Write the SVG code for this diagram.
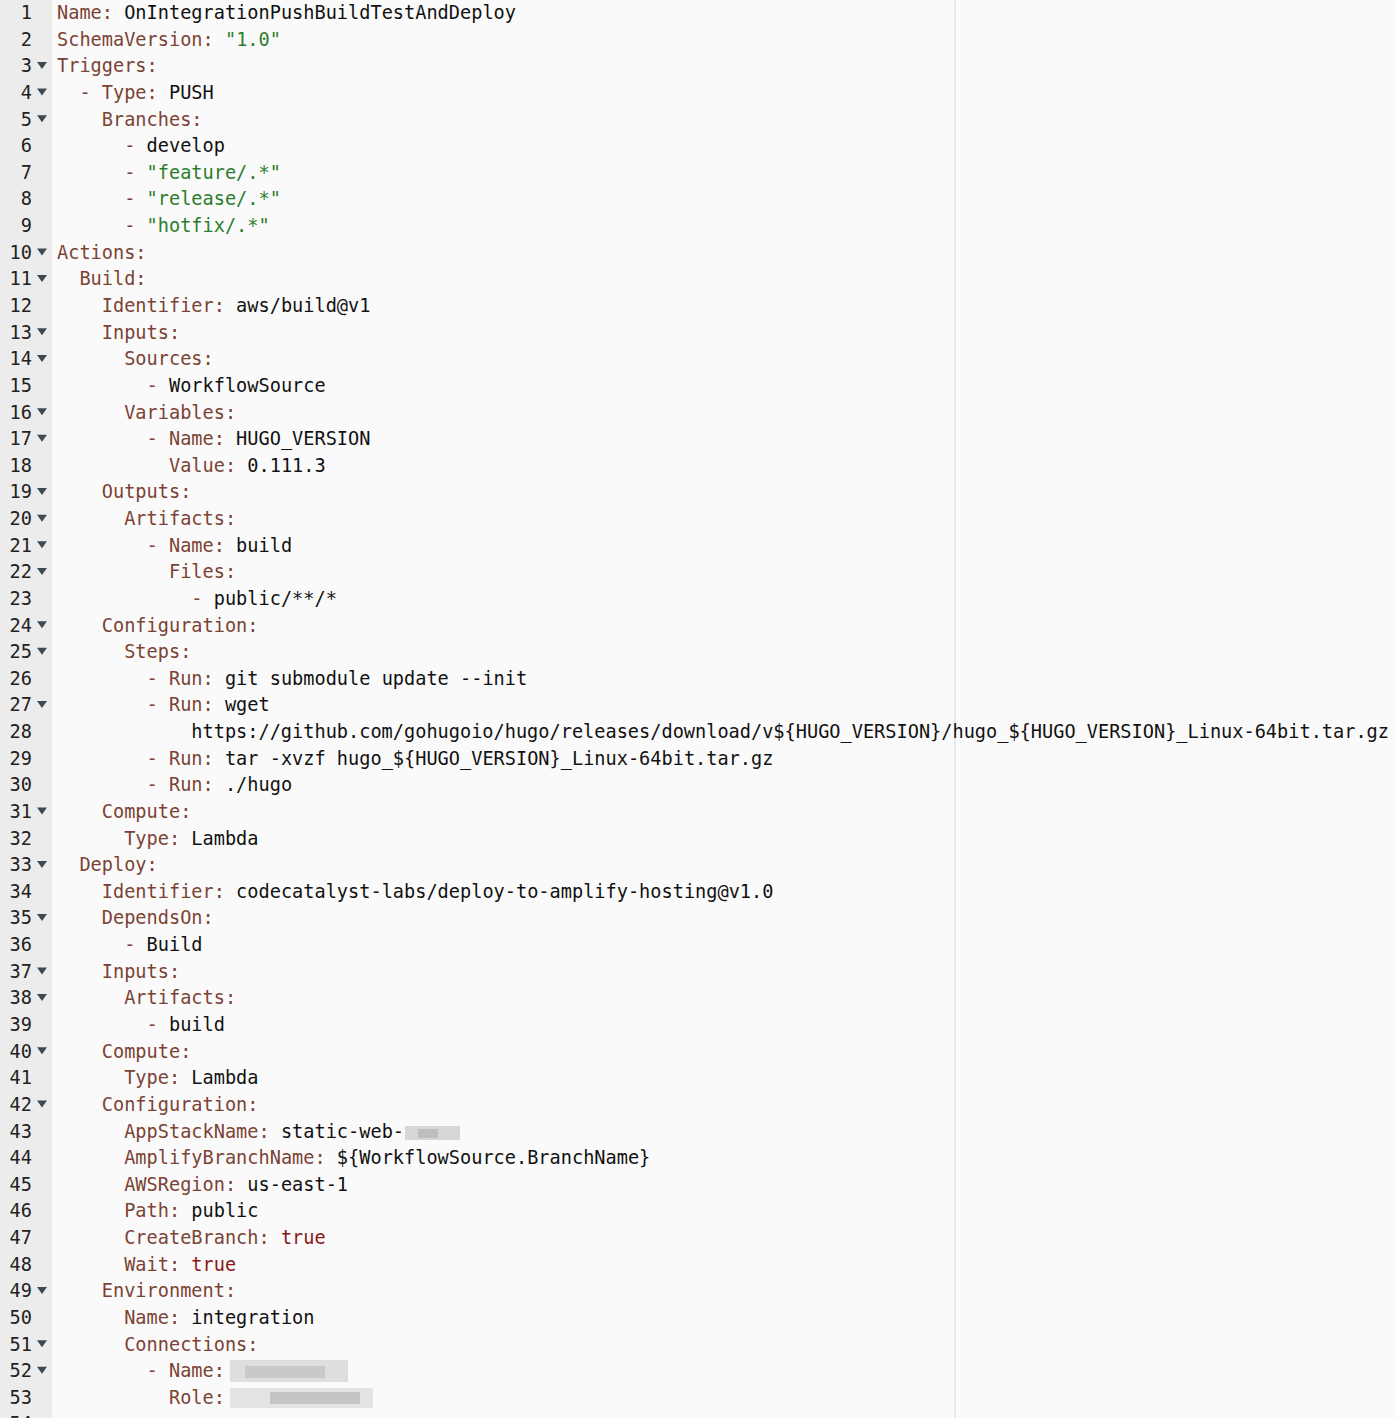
<svg xmlns="http://www.w3.org/2000/svg" width="1396" height="1418" viewBox="0 0 1396 1418">
<style>
text{font-family:"DejaVu Sans Mono","Liberation Mono",monospace;font-size:18.6px;fill:#111;white-space:pre}
.k{fill:#7b4334}.s{fill:#2b7d2b}.b{fill:#8b1616}
.n{text-anchor:end;fill:#222}
</style>
<defs><path id="t" d="M-5,-4 L5,-4 L0,3 Z" fill="#3b4a55"/></defs>
<rect width="1396" height="1418" fill="#fafafa"/>
<rect width="52" height="1418" fill="#ececec"/>
<line x1="955" y1="0" x2="955" y2="1418" stroke="#e4e4e4" stroke-width="1.5"/>
<g id="gutter">
<text class="n" x="32" y="19">1</text><text class="n" x="32" y="45.6">2</text><text class="n" x="32" y="72.3">3</text><text class="n" x="32" y="98.9">4</text><text class="n" x="32" y="125.5">5</text><text class="n" x="32" y="152.2">6</text><text class="n" x="32" y="178.8">7</text><text class="n" x="32" y="205.4">8</text><text class="n" x="32" y="232">9</text><text class="n" x="32" y="258.7">10</text><text class="n" x="32" y="285.3">11</text><text class="n" x="32" y="311.9">12</text><text class="n" x="32" y="338.6">13</text><text class="n" x="32" y="365.2">14</text><text class="n" x="32" y="391.8">15</text><text class="n" x="32" y="418.5">16</text><text class="n" x="32" y="445.1">17</text><text class="n" x="32" y="471.7">18</text><text class="n" x="32" y="498.3">19</text><text class="n" x="32" y="525">20</text><text class="n" x="32" y="551.6">21</text><text class="n" x="32" y="578.2">22</text><text class="n" x="32" y="604.9">23</text><text class="n" x="32" y="631.5">24</text><text class="n" x="32" y="658.1">25</text><text class="n" x="32" y="684.8">26</text><text class="n" x="32" y="711.4">27</text><text class="n" x="32" y="738">28</text><text class="n" x="32" y="764.6">29</text><text class="n" x="32" y="791.3">30</text><text class="n" x="32" y="817.9">31</text><text class="n" x="32" y="844.5">32</text><text class="n" x="32" y="871.2">33</text><text class="n" x="32" y="897.8">34</text><text class="n" x="32" y="924.4">35</text><text class="n" x="32" y="951.1">36</text><text class="n" x="32" y="977.7">37</text><text class="n" x="32" y="1004.3">38</text><text class="n" x="32" y="1030.9">39</text><text class="n" x="32" y="1057.6">40</text><text class="n" x="32" y="1084.2">41</text><text class="n" x="32" y="1110.8">42</text><text class="n" x="32" y="1137.5">43</text><text class="n" x="32" y="1164.1">44</text><text class="n" x="32" y="1190.7">45</text><text class="n" x="32" y="1217.4">46</text><text class="n" x="32" y="1244">47</text><text class="n" x="32" y="1270.6">48</text><text class="n" x="32" y="1297.2">49</text><text class="n" x="32" y="1323.9">50</text><text class="n" x="32" y="1350.5">51</text><text class="n" x="32" y="1377.1">52</text><text class="n" x="32" y="1403.8">53</text><text class="n" x="32" y="1430.4">54</text>
<use href="#t" x="42" y="66"/><use href="#t" x="42" y="92.6"/><use href="#t" x="42" y="119.2"/><use href="#t" x="42" y="252.4"/><use href="#t" x="42" y="279"/><use href="#t" x="42" y="332.3"/><use href="#t" x="42" y="358.9"/><use href="#t" x="42" y="412.2"/><use href="#t" x="42" y="438.8"/><use href="#t" x="42" y="492"/><use href="#t" x="42" y="518.7"/><use href="#t" x="42" y="545.3"/><use href="#t" x="42" y="571.9"/><use href="#t" x="42" y="625.2"/><use href="#t" x="42" y="651.8"/><use href="#t" x="42" y="705.1"/><use href="#t" x="42" y="811.6"/><use href="#t" x="42" y="864.9"/><use href="#t" x="42" y="918.1"/><use href="#t" x="42" y="971.4"/><use href="#t" x="42" y="998"/><use href="#t" x="42" y="1051.3"/><use href="#t" x="42" y="1104.5"/><use href="#t" x="42" y="1290.9"/><use href="#t" x="42" y="1344.2"/><use href="#t" x="42" y="1370.8"/>
</g>
<g id="code">
<text x="57" y="19"><tspan class="k">Name:</tspan> OnIntegrationPushBuildTestAndDeploy</text>
<text x="57" y="45.6"><tspan class="k">SchemaVersion:</tspan> <tspan class="s">"1.0"</tspan></text>
<text x="57" y="72.3"><tspan class="k">Triggers:</tspan></text>
<text x="57" y="98.9"><tspan class="k">  - Type:</tspan> PUSH</text>
<text x="57" y="125.5"><tspan class="k">    Branches:</tspan></text>
<text x="57" y="152.2"><tspan class="k">      - </tspan>develop</text>
<text x="57" y="178.8"><tspan class="k">      - </tspan><tspan class="s">"feature/.*"</tspan></text>
<text x="57" y="205.4"><tspan class="k">      - </tspan><tspan class="s">"release/.*"</tspan></text>
<text x="57" y="232"><tspan class="k">      - </tspan><tspan class="s">"hotfix/.*"</tspan></text>
<text x="57" y="258.7"><tspan class="k">Actions:</tspan></text>
<text x="57" y="285.3"><tspan class="k">  Build:</tspan></text>
<text x="57" y="311.9"><tspan class="k">    Identifier:</tspan> aws/build@v1</text>
<text x="57" y="338.6"><tspan class="k">    Inputs:</tspan></text>
<text x="57" y="365.2"><tspan class="k">      Sources:</tspan></text>
<text x="57" y="391.8"><tspan class="k">        - </tspan>WorkflowSource</text>
<text x="57" y="418.5"><tspan class="k">      Variables:</tspan></text>
<text x="57" y="445.1"><tspan class="k">        - Name:</tspan> HUGO_VERSION</text>
<text x="57" y="471.7"><tspan class="k">          Value:</tspan> 0.111.3</text>
<text x="57" y="498.3"><tspan class="k">    Outputs:</tspan></text>
<text x="57" y="525"><tspan class="k">      Artifacts:</tspan></text>
<text x="57" y="551.6"><tspan class="k">        - Name:</tspan> build</text>
<text x="57" y="578.2"><tspan class="k">          Files:</tspan></text>
<text x="57" y="604.9"><tspan class="k">            - </tspan>public/**/*</text>
<text x="57" y="631.5"><tspan class="k">    Configuration:</tspan></text>
<text x="57" y="658.1"><tspan class="k">      Steps:</tspan></text>
<text x="57" y="684.8"><tspan class="k">        - Run:</tspan> git submodule update --init</text>
<text x="57" y="711.4"><tspan class="k">        - Run:</tspan> wget</text>
<text x="57" y="738" textLength="1332" lengthAdjust="spacingAndGlyphs">            https://github.com/gohugoio/hugo/releases/download/v${HUGO_VERSION}/hugo_${HUGO_VERSION}_Linux-64bit.tar.gz</text>
<text x="57" y="764.6"><tspan class="k">        - Run:</tspan> tar -xvzf hugo_${HUGO_VERSION}_Linux-64bit.tar.gz</text>
<text x="57" y="791.3"><tspan class="k">        - Run:</tspan> ./hugo</text>
<text x="57" y="817.9"><tspan class="k">    Compute:</tspan></text>
<text x="57" y="844.5"><tspan class="k">      Type:</tspan> Lambda</text>
<text x="57" y="871.2"><tspan class="k">  Deploy:</tspan></text>
<text x="57" y="897.8"><tspan class="k">    Identifier:</tspan> codecatalyst-labs/deploy-to-amplify-hosting@v1.0</text>
<text x="57" y="924.4"><tspan class="k">    DependsOn:</tspan></text>
<text x="57" y="951.1"><tspan class="k">      - </tspan>Build</text>
<text x="57" y="977.7"><tspan class="k">    Inputs:</tspan></text>
<text x="57" y="1004.3"><tspan class="k">      Artifacts:</tspan></text>
<text x="57" y="1030.9"><tspan class="k">        - </tspan>build</text>
<text x="57" y="1057.6"><tspan class="k">    Compute:</tspan></text>
<text x="57" y="1084.2"><tspan class="k">      Type:</tspan> Lambda</text>
<text x="57" y="1110.8"><tspan class="k">    Configuration:</tspan></text>
<text x="57" y="1137.5"><tspan class="k">      AppStackName:</tspan> static-web-</text>
<text x="57" y="1164.1"><tspan class="k">      AmplifyBranchName:</tspan> ${WorkflowSource.BranchName}</text>
<text x="57" y="1190.7"><tspan class="k">      AWSRegion:</tspan> us-east-1</text>
<text x="57" y="1217.4"><tspan class="k">      Path:</tspan> public</text>
<text x="57" y="1244"><tspan class="k">      CreateBranch:</tspan> <tspan class="b">true</tspan></text>
<text x="57" y="1270.6"><tspan class="k">      Wait:</tspan> <tspan class="b">true</tspan></text>
<text x="57" y="1297.2"><tspan class="k">    Environment:</tspan></text>
<text x="57" y="1323.9"><tspan class="k">      Name:</tspan> integration</text>
<text x="57" y="1350.5"><tspan class="k">      Connections:</tspan></text>
<text x="57" y="1377.1"><tspan class="k">        - Name:</tspan></text>
<text x="57" y="1403.8"><tspan class="k">          Role:</tspan></text>
</g>
<g id="blur" opacity="0.9">
<rect x="405" y="1126" width="55" height="14" fill="#d4d4d4"/><rect x="418" y="1129" width="20" height="9" fill="#b8b8b8"/>
<rect x="230" y="1360" width="118" height="22" fill="#dcdcdc"/><rect x="245" y="1366" width="80" height="12" fill="#c4c4c4"/>
<rect x="230" y="1388" width="143" height="20" fill="#e2e2e2"/><rect x="270" y="1392" width="90" height="12" fill="#c0c0c0"/>
</g>
</svg>
